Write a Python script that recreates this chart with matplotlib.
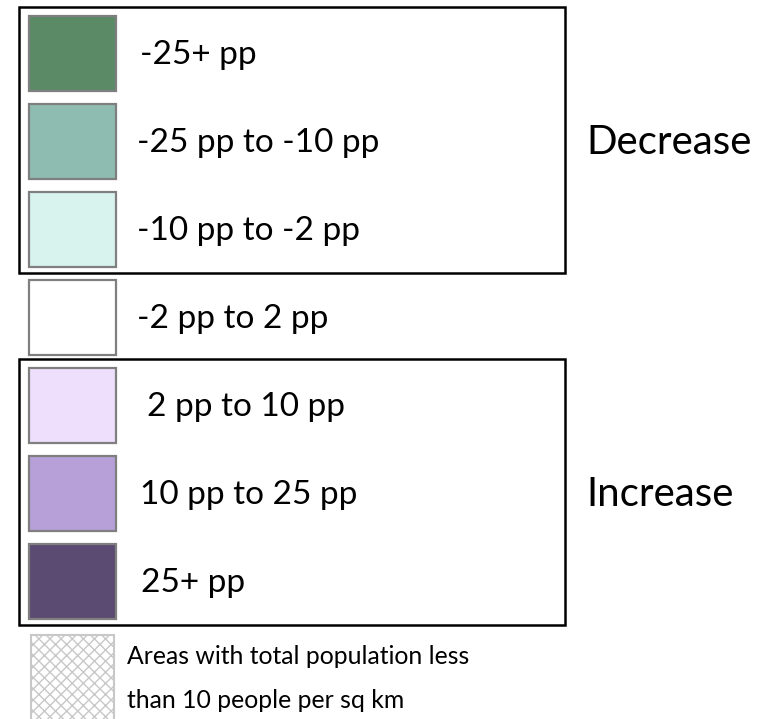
import matplotlib
matplotlib.use("Agg")
import matplotlib.pyplot as plt
import matplotlib.patches as mpatches

# legend content
LABELS = [
    "-25+ pp",
    "-25 pp to -10 pp",
    "-10 pp to -2 pp",
    "-2 pp to 2 pp",
    "2 pp to 10 pp",
    "10 pp to 25 pp",
    "25+ pp",
]
COLORS = ["#5B8A66", "#8FBCB0", "#D8F3EE", "#FFFFFF", "#EEE0FD", "#B7A0D8", "#5B4A72"]
GROUPS = [("Decrease", 0, 2), ("Increase", 4, 6)]
HATCH_LABEL = "Areas with total population less\nthan 10 people per sq km"

W, H = 776, 719
plt.rcParams["font.family"] = ["Lato", "DejaVu Sans"]

fig = plt.figure(figsize=(W / 100, H / 100), dpi=100)
ax = fig.add_axes([0, 0, 1, 1])
ax.set_xlim(0, W)
ax.set_ylim(H, 0)
ax.axis("off")

SW_X, SW_W, SW_H = 29, 87, 75
TOP0, PITCH = 16, 88
TEXT_X = [140, 137, 137, 137, 147, 140, 141]


def row_top(i):
    return TOP0 + i * PITCH


for i, (lab, col) in enumerate(zip(LABELS, COLORS)):
    y = row_top(i)
    ax.add_patch(mpatches.Rectangle((SW_X, y), SW_W, SW_H, facecolor=col,
                                    edgecolor="#7F7F7F", linewidth=1.6))
    ax.text(TEXT_X[i], y + SW_H / 2 + 1, lab, fontsize=24, va="center", ha="left")

for name, a, b in GROUPS:
    y0 = row_top(a) - 9
    y1 = row_top(b) + SW_H + 6
    ax.add_patch(mpatches.Rectangle((19, y0), 546, y1 - y0, facecolor="none",
                                    edgecolor="black", linewidth=1.8))
    ax.text(586, (y0 + y1) / 2 + 2, name, fontsize=29, va="center", ha="left")

hy = row_top(6) + SW_H + 16
ax.add_patch(mpatches.Rectangle((31, hy), 83, 90, facecolor="white",
                                edgecolor="#C8C8C8", hatch="xxx", linewidth=1.5))
for k, line in enumerate(HATCH_LABEL.split("\n")):
    ax.text(127, hy + 21 + k * 45, line, fontsize=17.8, va="center", ha="left")

fig.savefig("out.png", dpi=100)
